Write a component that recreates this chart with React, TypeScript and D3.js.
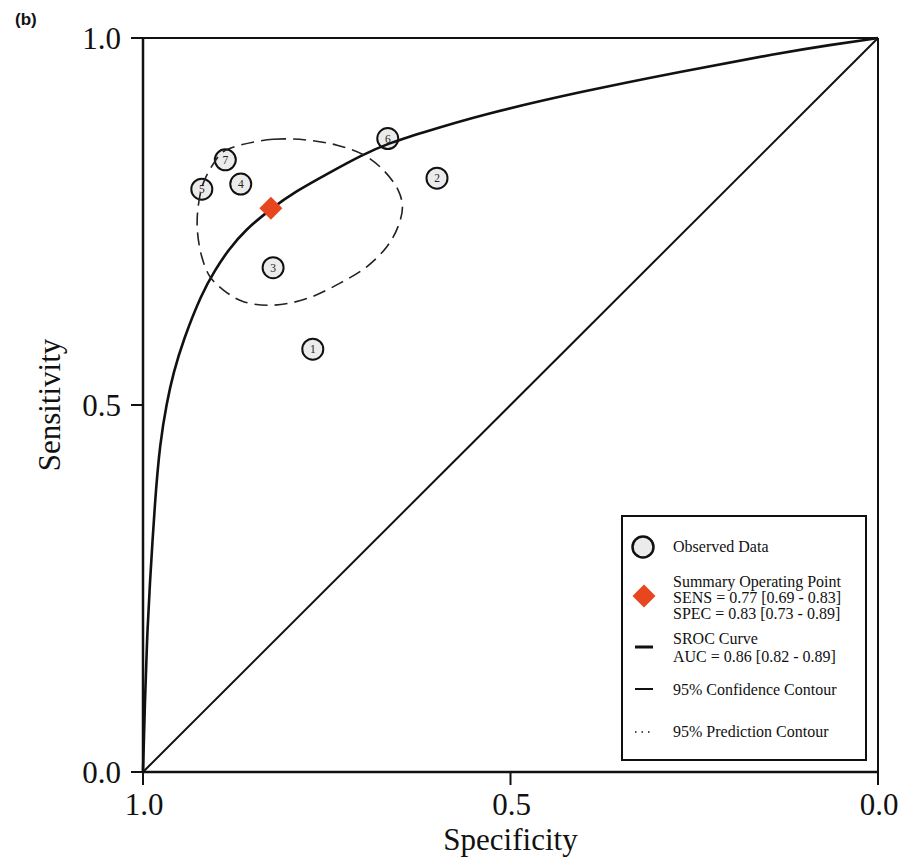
import React from "react";
import * as d3 from "d3";

// Observed studies (specificity, sensitivity)
const studyIds = [1, 2, 3, 4, 5, 6, 7];
const studySpec = [0.769, 0.6, 0.823, 0.867, 0.92, 0.667, 0.888];
const studySens = [0.576, 0.809, 0.687, 0.801, 0.794, 0.863, 0.834];

// Summary operating point
const summarySpec = 0.826;
const summarySens = 0.768;

// SROC curve
const srocSpec = [1.0, 0.9973, 0.9946, 0.9912, 0.9837, 0.9769, 0.9678, 0.9588, 0.9452, 0.9201, 0.902, 0.8839, 0.8612, 0.8249, 0.7932, 0.7479, 0.7024, 0.6663, 0.6231, 0.5415, 0.4054, 0.2694, 0.1333, 0.0653, 0.0];
const srocSens = [0.0, 0.098, 0.18, 0.248, 0.3706, 0.4482, 0.5027, 0.5432, 0.5886, 0.6522, 0.6839, 0.7112, 0.7384, 0.768, 0.7906, 0.8157, 0.8406, 0.8565, 0.8701, 0.8951, 0.9268, 0.9541, 0.9796, 0.9905, 1.0];

// 95% confidence contour
const confSpec = [0.868, 0.823, 0.777, 0.736, 0.7, 0.673, 0.653, 0.647, 0.653, 0.668, 0.696, 0.732, 0.777, 0.823, 0.864, 0.891, 0.909, 0.92, 0.926, 0.925, 0.918, 0.904, 0.891];
const confSens = [0.854, 0.862, 0.861, 0.854, 0.841, 0.82, 0.793, 0.77, 0.743, 0.716, 0.688, 0.666, 0.645, 0.636, 0.641, 0.657, 0.675, 0.702, 0.738, 0.77, 0.802, 0.829, 0.845];

const axisTicks = [0, 0.5, 1];
const xLabel = "Specificity";
const yLabel = "Sensitivity";
const panelLabel = "(b)";

const legendLines = {
  observed: "Observed Data",
  summary: ["Summary Operating Point", "SENS = 0.77 [0.69 - 0.83]", "SPEC = 0.83 [0.73 - 0.89]"],
  sroc: ["SROC Curve", "AUC = 0.86 [0.82 - 0.89]"],
  conf: "95% Confidence Contour",
  pred: "95% Prediction Contour",
};

const SERIF = "'Liberation Serif', 'Times New Roman', Times, serif";

export default function App() {
  const W = 917, H = 860;
  const x = d3.scaleLinear().domain([1, 0]).range([143, 878]);
  const y = d3.scaleLinear().domain([0, 1]).range([772, 38]);

  const srocPts: [number, number][] = srocSpec.map((s, i) => [s, srocSens[i]]);
  const confPts: [number, number][] = confSpec.map((s, i) => [s, confSens[i]]);

  const srocLine = d3
    .line<[number, number]>()
    .x((d) => x(d[0]))
    .y((d) => y(d[1]))
    .curve(d3.curveBasis);
  const confLine = d3
    .line<[number, number]>()
    .x((d) => x(d[0]))
    .y((d) => y(d[1]))
    .curve(d3.curveCatmullRomClosed.alpha(0.5));

  const diamond = (cx: number, cy: number, r: number) =>
    `M${cx},${cy - r}L${cx + r},${cy}L${cx},${cy + r}L${cx - r},${cy}Z`;

  const fmt = d3.format(".1f");
  const lg = { x0: 622, y0: 516, x1: 866, y1: 760 };
  const tx = 673;

  return (
    <svg
      width={W}
      height={H}
      style={{ position: "absolute", left: 0, top: 0, background: "#fff" }}
      fontFamily={SERIF}
    >
      <rect x={0} y={0} width={W} height={H} fill="#fff" />
      <text x={15} y={25} fontFamily="'Liberation Sans', Arial, sans-serif" fontWeight="bold" fontSize={17} fill="#111">
        {panelLabel}
      </text>

      {/* frame */}
      <line x1={x(1)} x2={x(0)} y1={y(1)} y2={y(1)} stroke="#111" strokeWidth={2} />
      <line x1={x(0)} x2={x(0)} y1={y(1)} y2={y(0)} stroke="#111" strokeWidth={2} />
      <line x1={x(1)} x2={x(1)} y1={y(1) - 1} y2={y(0)} stroke="#111" strokeWidth={2.5} />
      <line x1={x(1)} x2={x(0)} y1={y(0)} y2={y(0)} stroke="#111" strokeWidth={2.5} />

      {/* y ticks */}
      {axisTicks.map((t) => (
        <g key={"y" + t}>
          <line x1={x(1) - 12} x2={x(1)} y1={y(t)} y2={y(t)} stroke="#111" strokeWidth={2} />
          <text x={121} y={y(t) + 11} textAnchor="end" fontSize={31} fill="#111">
            {fmt(t)}
          </text>
        </g>
      ))}
      {/* x ticks */}
      {axisTicks.map((t) => (
        <g key={"x" + t}>
          <line x1={x(t)} x2={x(t)} y1={y(0)} y2={y(0) + 13} stroke="#111" strokeWidth={2} />
          <text x={x(t) + 1} y={815} textAnchor="middle" fontSize={31} fill="#111">
            {fmt(t)}
          </text>
        </g>
      ))}
      <text x={(x(1) + x(0)) / 2} y={850} textAnchor="middle" fontSize={31} fill="#111">
        {xLabel}
      </text>
      <text
        transform={`translate(60,${(y(0) + y(1)) / 2}) rotate(-90)`}
        textAnchor="middle"
        fontSize={31}
        fill="#111"
      >
        {yLabel}
      </text>

      {/* diagonal */}
      <line x1={x(1)} y1={y(0)} x2={x(0)} y2={y(1)} stroke="#111" strokeWidth={2} />

      {/* observed studies */}
      {studyIds.map((id, i) => (
        <g key={"s" + id}>
          <circle cx={x(studySpec[i])} cy={y(studySens[i])} r={10.5} fill="#ebebeb" stroke="#111" strokeWidth={2} />
          <text x={x(studySpec[i])} y={y(studySens[i]) + 4} textAnchor="middle" fontSize={11.5} fill="#222">
            {id}
          </text>
        </g>
      ))}

      {/* SROC curve */}
      <path d={srocLine(srocPts) || ""} fill="none" stroke="#111" strokeWidth={2.6} />

      {/* confidence contour */}
      <path d={confLine(confPts) || ""} fill="none" stroke="#222" strokeWidth={1.6} strokeDasharray="13 7" />

      {/* summary point */}
      <path d={diamond(x(summarySpec), y(summarySens), 11.5)} fill="#e8461e" />

      {/* legend */}
      <rect x={lg.x0} y={lg.y0} width={lg.x1 - lg.x0} height={lg.y1 - lg.y0} fill="#fff" stroke="#111" strokeWidth={2} />
      <circle cx={643} cy={547} r={10.5} fill="#ebebeb" stroke="#111" strokeWidth={2.5} />
      <text x={tx} y={552} fontSize={16} fill="#111">{legendLines.observed}</text>

      <path d={diamond(644, 596, 11.5)} fill="#e8461e" />
      {legendLines.summary.map((s, i) => (
        <text key={"sm" + i} x={tx} y={587 + i * 15.8} fontSize={16} fill="#111">{s}</text>
      ))}

      <line x1={635} x2={653} y1={647} y2={647} stroke="#111" strokeWidth={3} />
      {legendLines.sroc.map((s, i) => (
        <text key={"sr" + i} x={tx} y={644 + i * 17.5} fontSize={16} fill="#111">{s}</text>
      ))}

      <line x1={635} x2={653} y1={689} y2={689} stroke="#111" strokeWidth={2} />
      <text x={tx} y={694.5} fontSize={16} fill="#111">{legendLines.conf}</text>

      <line x1={635} x2={653} y1={732} y2={732} stroke="#111" strokeWidth={1.5} strokeDasharray="1.5 5" />
      <text x={tx} y={737} fontSize={16} fill="#111">{legendLines.pred}</text>
    </svg>
  );
}
